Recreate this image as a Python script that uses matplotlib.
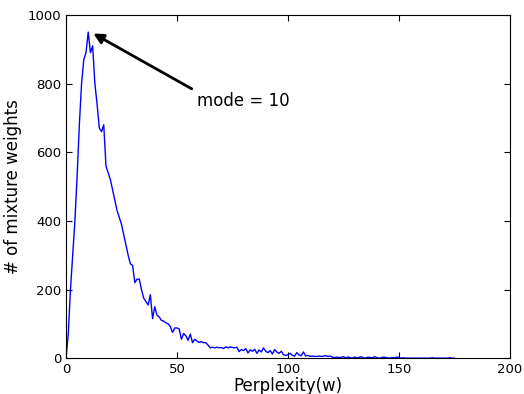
import matplotlib
matplotlib.use("Agg")
import matplotlib.pyplot as plt

# perplexity values (integer bins) and counts
perplexity = list(range(0, 176))
counts = [
    0, 70, 200, 300, 400, 530, 680, 800, 870, 890,
    950, 890, 910, 800, 740, 670, 660, 680, 560, 540,
    520, 490, 460, 430, 410, 390, 360, 330, 300, 275,
    270, 220, 230, 230, 200, 175, 165, 155, 185, 115,
    150, 125, 120, 110, 108, 103, 100, 92, 75, 88,
    88, 85, 55, 72, 65, 52, 70, 45, 55, 50,
    46, 48, 45, 45, 38, 30, 32, 30, 32, 30,
    31, 28, 33, 30, 33, 31, 30, 32, 19, 25,
    22, 28, 15, 24, 20, 26, 14, 24, 18, 30,
    20, 16, 22, 12, 25, 18, 14, 20, 10, 8,
    10, 14, 8, 6, 16, 9, 7, 18, 6, 8,
    5, 6, 5, 5, 6, 5, 6, 7, 5, 6,
    3, 2, 3, 2, 2, 4, 1, 3, 2, 0,
    3, 1, 2, 4, 1, 0, 3, 2, 1, 4,
    2, 0, 1, 3, 2, 1, 0, 2, 1, 3,
    2, 0, 1, 0, 0, 0, 0, 0, 0, 0,
    0, 0, 0, 0, 0, 1, 0, 0, 0, 0,
    0, 0, 0, 1, 0, 0,
]
mode_x, mode_y = 10, 950

fig = plt.figure(figsize=(5.24, 3.94), dpi=100)
ax = fig.add_axes([0.126, 0.091, 0.847, 0.871])
ax.plot(perplexity, counts, color="blue", lw=1)
ax.set_xlim(0, 200); ax.set_ylim(0, 1000)
ax.set_xticks([0, 50, 100, 150, 200])
ax.set_yticks([0, 200, 400, 600, 800, 1000])
ax.tick_params(direction="in", top=True, right=True, labelsize=9.5, length=4)
ax.set_xlabel("Perplexity(w)", fontsize=12, labelpad=1)
ax.set_ylabel("# of mixture weights", fontsize=12)
ax.annotate("mode = 10", xy=(mode_x + 2.3, mode_y - 4), xytext=(59, 750),
            fontsize=12, va="center",
            arrowprops=dict(arrowstyle="-|>", color="black", lw=2,
                            mutation_scale=15, shrinkA=2, shrinkB=0,
                            relpos=(0, 1)))
fig.savefig("out.png")
